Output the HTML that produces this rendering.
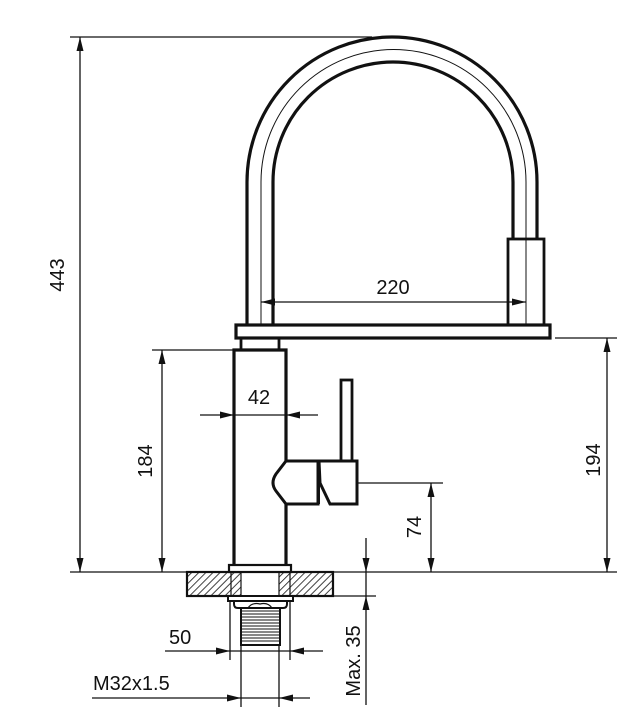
<!DOCTYPE html>
<html><head><meta charset="utf-8"><style>
html,body{margin:0;padding:0;background:#fff}
svg{display:block}
text{font-family:"Liberation Sans",Arial,sans-serif;font-size:20px;fill:#111}
</style></head><body>
<svg width="633" height="728" viewBox="0 0 633 728" xmlns="http://www.w3.org/2000/svg">
<defs>
<pattern id="h" patternUnits="userSpaceOnUse" width="5" height="5" patternTransform="rotate(45)">
<rect width="5" height="5" fill="#fff"/><line x1="0" y1="0" x2="0" y2="5" stroke="#111" stroke-width="1.6"/>
</pattern>
</defs>
<g fill="none" stroke="#111">
<path d="M247,325 V182 A145,145 0 0 1 537,182 V239" stroke-width="3.2"/>
<path d="M273,325 V182 A120,120 0 0 1 513,182 V239" stroke-width="3.2"/>
<path d="M261,325 V182 A132,132 0 0 1 526,182 V325" stroke-width="1"/>
<rect x="508" y="239" width="36" height="86" stroke-width="2.8" fill="#fff"/>
<line x1="526" y1="239" x2="526" y2="325" stroke-width="1"/>
<rect x="236" y="325" width="314" height="13" stroke-width="3.2" fill="#fff"/>
<rect x="241" y="338" width="38" height="12" stroke-width="2.8"/>
<path d="M234,572 V350 H286 V572" stroke-width="3.2"/>
<rect x="341" y="380" width="11" height="82" stroke-width="2.8" fill="#fff"/>
<path d="M286,461 H318 V504 H286 L276,491 Q270,483 276,474 Z" stroke-width="3" fill="#fff"/>
<path d="M319,461 H357 V504 H330 L320,483 Z" stroke-width="3" fill="#fff"/>
<line x1="319" y1="483" x2="319" y2="504" stroke-width="2"/>
<rect x="187" y="572" width="146" height="24" stroke-width="2.2" fill="url(#h)"/>
<rect x="241" y="572" width="38" height="24" stroke-width="1.2" fill="#fff"/>
<line x1="231" y1="572" x2="231" y2="596" stroke-width="1.2"/>
<line x1="290" y1="572" x2="290" y2="596" stroke-width="1.2"/>
<rect x="229" y="565" width="62" height="7" stroke-width="2.2" fill="#fff"/>
<rect x="228" y="596" width="65" height="5" stroke-width="2" fill="#fff"/>
<path d="M234,601 V604 Q234,608 238,608 H283 Q287,608 287,604 V601" stroke-width="2"/>
<path d="M248,608 Q252,602 260,604 Q268,602 272,608" stroke-width="1.2"/>
<rect x="241" y="608" width="39" height="37" stroke-width="2"/>
<g stroke-width="1.1">
<line x1="241" y1="611" x2="280" y2="611"/><line x1="241" y1="614" x2="280" y2="614"/>
<line x1="241" y1="617" x2="280" y2="617"/><line x1="241" y1="620" x2="280" y2="620"/>
<line x1="241" y1="623" x2="280" y2="623"/><line x1="241" y1="626" x2="280" y2="626"/>
<line x1="241" y1="629" x2="280" y2="629"/><line x1="241" y1="632" x2="280" y2="632"/>
<line x1="241" y1="635" x2="280" y2="635"/><line x1="241" y1="638" x2="280" y2="638"/>
<line x1="241" y1="641" x2="280" y2="641"/>
</g>
<g stroke-width="1.3">
<line x1="70" y1="37" x2="372" y2="37"/>
<line x1="70" y1="572" x2="617" y2="572"/>
<line x1="80" y1="37" x2="80" y2="572"/>
<line x1="152" y1="350" x2="234" y2="350"/>
<line x1="162" y1="350" x2="162" y2="572"/>
<line x1="555" y1="338" x2="617" y2="338"/>
<line x1="607" y1="338" x2="607" y2="572"/>
<line x1="357" y1="483" x2="443" y2="483"/>
<line x1="431" y1="483" x2="431" y2="572"/>
<line x1="261" y1="302" x2="526" y2="302"/>
<line x1="200" y1="415" x2="318" y2="415"/>
<line x1="230" y1="601" x2="230" y2="660"/>
<line x1="290" y1="601" x2="290" y2="660"/>
<line x1="165" y1="651" x2="323" y2="651"/>
<line x1="241" y1="645" x2="241" y2="707"/>
<line x1="279" y1="645" x2="279" y2="707"/>
<line x1="92" y1="698" x2="310" y2="698"/>
<line x1="290" y1="596" x2="376" y2="596"/>
<line x1="366" y1="538" x2="366" y2="705"/>
</g>
</g>
<g fill="#111">
<polygon points="80,37 76.5,51 83.5,51"/>
<polygon points="80,572 76.5,558 83.5,558"/>
<polygon points="162,350 158.5,364 165.5,364"/>
<polygon points="162,572 158.5,558 165.5,558"/>
<polygon points="607,338 603.5,352 610.5,352"/>
<polygon points="607,572 603.5,558 610.5,558"/>
<polygon points="431,483 427.5,497 434.5,497"/>
<polygon points="431,572 427.5,558 434.5,558"/>
<polygon points="261,302 275,298.5 275,305.5"/>
<polygon points="526,302 512,298.5 512,305.5"/>
<polygon points="234,415 220,411.5 220,418.5"/>
<polygon points="286,415 300,411.5 300,418.5"/>
<polygon points="230,651 216,647.5 216,654.5"/>
<polygon points="290,651 304,647.5 304,654.5"/>
<polygon points="241,698 227,694.5 227,701.5"/>
<polygon points="279,698 293,694.5 293,701.5"/>
<polygon points="366,572 362.5,558 369.5,558"/>
<polygon points="366,596 362.5,610 369.5,610"/>
</g>
<text x="393" y="294" text-anchor="middle">220</text>
<text x="259" y="404" text-anchor="middle">42</text>
<text x="169" y="644">50</text>
<text x="93" y="690">M32x1.5</text>
<text transform="translate(64,275) rotate(-90)" text-anchor="middle">443</text>
<text transform="translate(152,461) rotate(-90)" text-anchor="middle">184</text>
<text transform="translate(600,460) rotate(-90)" text-anchor="middle">194</text>
<text transform="translate(421,527) rotate(-90)" text-anchor="middle">74</text>
<text transform="translate(360,661) rotate(-90)" text-anchor="middle">Max. 35</text>
</svg>
</body></html>
